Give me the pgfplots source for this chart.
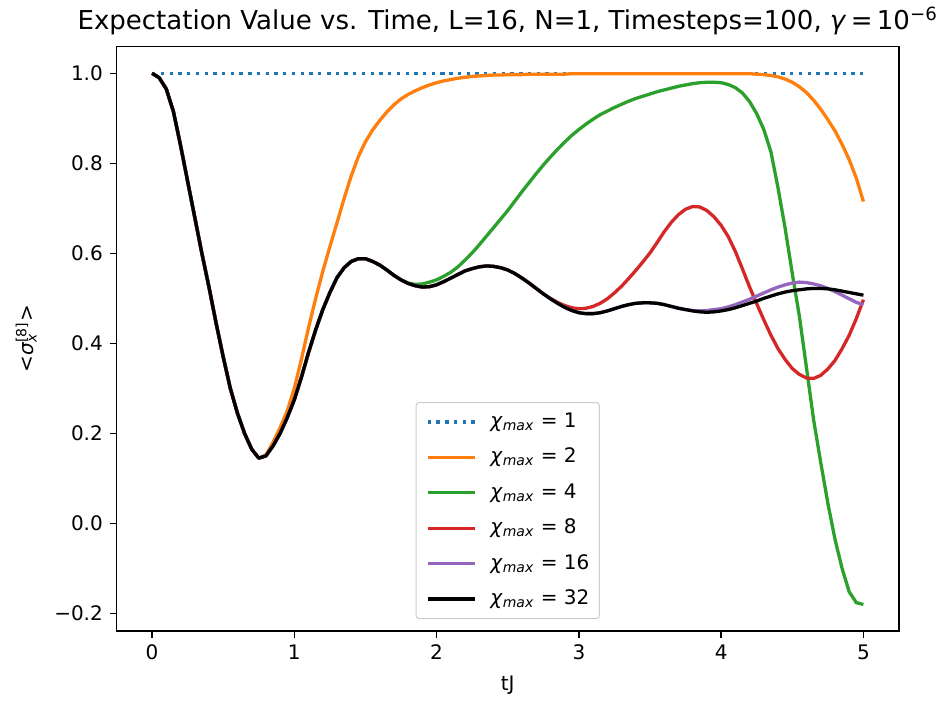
\documentclass[border=0pt]{standalone}
\usepackage{pgfplots}
\pgfplotsset{compat=1.18}
\usepackage{pgfplotstable}
\usepackage{fontspec}
\setmainfont{DejaVu Sans}

\definecolor{C0}{HTML}{1F77B4}
\definecolor{C1}{HTML}{FF7F0E}
\definecolor{C2}{HTML}{2CA02C}
\definecolor{C3}{HTML}{D62728}
\definecolor{C4}{HTML}{9467BD}

% <sigma_x^[8]>(tJ) for each bond dimension chi_max
\pgfplotstableread{
t    c1 c2    c4     c8    c16   c32
0.00 1  1.000 1.000  1.000 1.000 1.000
0.05 1  0.990 0.990  0.990 0.990 0.990
0.10 1  0.965 0.965  0.965 0.965 0.965
0.15 1  0.915 0.915  0.915 0.915 0.915
0.20 1  0.840 0.840  0.840 0.840 0.840
0.25 1  0.760 0.760  0.760 0.760 0.760
0.30 1  0.680 0.680  0.680 0.680 0.680
0.35 1  0.600 0.600  0.600 0.600 0.600
0.40 1  0.525 0.525  0.525 0.525 0.525
0.45 1  0.445 0.445  0.445 0.445 0.445
0.50 1  0.370 0.370  0.370 0.370 0.370
0.55 1  0.300 0.300  0.300 0.300 0.300
0.60 1  0.245 0.245  0.245 0.245 0.245
0.65 1  0.200 0.200  0.200 0.200 0.200
0.70 1  0.165 0.165  0.165 0.165 0.165
0.75 1  0.145 0.145  0.145 0.145 0.145
0.80 1  0.152 0.150  0.150 0.150 0.150
0.85 1  0.180 0.172  0.172 0.172 0.172
0.90 1  0.213 0.200  0.200 0.200 0.200
0.95 1  0.250 0.235  0.235 0.235 0.235
1.00 1  0.300 0.275  0.275 0.275 0.275
1.05 1  0.365 0.325  0.325 0.325 0.325
1.10 1  0.435 0.380  0.380 0.380 0.380
1.15 1  0.500 0.430  0.430 0.430 0.430
1.20 1  0.560 0.475  0.475 0.475 0.475
1.25 1  0.615 0.513  0.513 0.513 0.513
1.30 1  0.668 0.546  0.546 0.546 0.546
1.35 1  0.722 0.568  0.568 0.568 0.568
1.40 1  0.772 0.582  0.582 0.582 0.582
1.45 1  0.815 0.588  0.588 0.588 0.588
1.50 1  0.848 0.588  0.588 0.588 0.588
1.55 1  0.874 0.582  0.582 0.582 0.582
1.60 1  0.895 0.574  0.574 0.574 0.574
1.65 1  0.914 0.563  0.563 0.563 0.563
1.70 1  0.930 0.551  0.551 0.551 0.551
1.75 1  0.943 0.541  0.541 0.541 0.541
1.80 1  0.953 0.534  0.533 0.533 0.533
1.85 1  0.961 0.531  0.528 0.528 0.528
1.90 1  0.968 0.532  0.525 0.525 0.525
1.95 1  0.974 0.536  0.526 0.526 0.526
2.00 1  0.979 0.541  0.530 0.530 0.530
2.05 1  0.983 0.549  0.537 0.537 0.537
2.10 1  0.986 0.558  0.545 0.545 0.545
2.15 1  0.989 0.570  0.553 0.553 0.553
2.20 1  0.991 0.585  0.561 0.561 0.561
2.25 1  0.993 0.601  0.566 0.566 0.566
2.30 1  0.994 0.619  0.570 0.570 0.570
2.35 1  0.995 0.638  0.572 0.572 0.572
2.40 1  0.996 0.657  0.571 0.571 0.571
2.45 1  0.996 0.676  0.568 0.568 0.568
2.50 1  0.997 0.695  0.563 0.563 0.563
2.55 1  0.997 0.716  0.555 0.555 0.555
2.60 1  0.997 0.737  0.545 0.545 0.545
2.65 1  0.998 0.757  0.534 0.534 0.534
2.70 1  0.998 0.777  0.522 0.522 0.522
2.75 1  0.998 0.796  0.510 0.510 0.510
2.80 1  0.998 0.814  0.500 0.499 0.499
2.85 1  0.998 0.831  0.491 0.489 0.489
2.90 1  0.998 0.847  0.484 0.480 0.480
2.95 1  0.999 0.862  0.479 0.473 0.473
3.00 1  0.999 0.875  0.477 0.468 0.468
3.05 1  0.999 0.887  0.478 0.466 0.466
3.10 1  0.999 0.898  0.482 0.466 0.466
3.15 1  0.999 0.908  0.489 0.468 0.468
3.20 1  0.999 0.916  0.499 0.472 0.472
3.25 1  0.999 0.924  0.512 0.477 0.477
3.30 1  0.999 0.931  0.527 0.482 0.482
3.35 1  0.999 0.938  0.544 0.486 0.486
3.40 1  0.999 0.944  0.562 0.489 0.489
3.45 1  0.999 0.949  0.581 0.490 0.490
3.50 1  0.999 0.954  0.601 0.490 0.490
3.55 1  0.999 0.959  0.624 0.489 0.489
3.60 1  0.999 0.963  0.648 0.486 0.486
3.65 1  0.999 0.967  0.669 0.482 0.482
3.70 1  0.999 0.971  0.686 0.478 0.478
3.75 1  0.999 0.974  0.698 0.475 0.475
3.80 1  0.999 0.977  0.704 0.473 0.472
3.85 1  0.999 0.979  0.703 0.472 0.470
3.90 1  0.999 0.980  0.695 0.473 0.469
3.95 1  0.999 0.980  0.681 0.475 0.470
4.00 1  0.999 0.979  0.662 0.477 0.472
4.05 1  0.999 0.975  0.637 0.481 0.475
4.10 1  0.999 0.968  0.604 0.486 0.479
4.15 1  0.999 0.956  0.565 0.492 0.484
4.20 1  0.999 0.937  0.525 0.498 0.489
4.25 1  0.998 0.910  0.488 0.505 0.494
4.30 1  0.997 0.875  0.452 0.512 0.500
4.35 1  0.995 0.825  0.418 0.519 0.505
4.40 1  0.992 0.745  0.388 0.525 0.510
4.45 1  0.987 0.655  0.364 0.530 0.514
4.50 1  0.980 0.555  0.344 0.534 0.517
4.55 1  0.970 0.460  0.331 0.536 0.519
4.60 1  0.957 0.345  0.323 0.535 0.521
4.65 1  0.940 0.230  0.322 0.532 0.522
4.70 1  0.920 0.135  0.329 0.528 0.522
4.75 1  0.897 0.045  0.343 0.522 0.521
4.80 1  0.872 -0.035 0.362 0.515 0.519
4.85 1  0.842 -0.100 0.388 0.507 0.516
4.90 1  0.808 -0.152 0.418 0.499 0.513
4.95 1  0.767 -0.176 0.455 0.491 0.510
5.00 1  0.715 -0.180 0.497 0.486 0.507
}\chidata

\newcommand{\chimax}{\textit{χ}\textsubscript{\textit{max}}}

\begin{document}
\begin{tikzpicture}
\path[use as bounding box] (0,0) rectangle (473.5pt,351pt);
\begin{axis}[
  at={(58.25pt,35.5pt)}, anchor=south west,
  scale only axis, width=391.25pt, height=292.15pt,
  xmin=-0.25, xmax=5.25, ymin=-0.239, ymax=1.059,
  axis line style={line width=0.75pt},
  tick style={line width=0.75pt, black},
  tick align=outside, major tick length=3.3pt,
  xtick pos=left, ytick pos=left,
  xtick={0,1,2,3,4,5}, xticklabels={0,1,2,3,4,5},
  ytick={-0.2,0,0.2,0.4,0.6,0.8,1.0},
  yticklabels={−0.2,0.0,0.2,0.4,0.6,0.8,1.0},
  ticklabel style={font=\fontsize{10}{12}\selectfont},
  title={Expectation Value vs. Time, L=16, N=1, Timesteps=100, \textit{γ}\,=\,10\textsuperscript{−6}},
  title style={font=\fontsize{13}{15}\selectfont, at={(axis description cs:0.5,1)}, anchor=base, inner sep=0pt, yshift=2.6pt},
  xlabel={tJ},
  xlabel style={font=\fontsize{10}{12}\selectfont, at={(axis description cs:0.5,0)}, anchor=north, inner sep=0pt, yshift=-22.5pt},
  ylabel={<\textit{σ}\rlap{\textsubscript{\textit{x}}}\textsuperscript{[8]}>},
  ylabel style={font=\fontsize{10}{12}\selectfont, at={(axis description cs:-0.1016,0.5)}, anchor=south, inner sep=0pt},
  legend cell align=left,
  legend image code/.code={\draw[#1] (0pt,0pt) -- (23.5pt,0pt);},
  legend style={at={(axis description cs:0.5,0.0205)}, anchor=south,
    font=\fontsize{10}{12}\selectfont, draw=black!20, line width=0.5pt,
    rounded corners=1.5pt, fill=white, fill opacity=0.8, text opacity=1,
    inner xsep=5pt, inner ysep=4.5pt, row sep=7.2pt, column sep=7pt,
    nodes={inner sep=0pt, text height=8pt, text depth=2.5pt}},
  every axis plot/.append style={line width=1.65pt, line join=round},
]
\addplot[C0, dash pattern=on 1.65pt off 2.72pt] table[x=t, y=c1] {\chidata};
\addlegendentry{\chimax{} = 1}
\addplot[C1] table[x=t, y=c2] {\chidata};
\addlegendentry{\chimax{} = 2}
\addplot[C2] table[x=t, y=c4] {\chidata};
\addlegendentry{\chimax{} = 4}
\addplot[C3] table[x=t, y=c8] {\chidata};
\addlegendentry{\chimax{} = 8}
\addplot[C4] table[x=t, y=c16] {\chidata};
\addlegendentry{\chimax{} = 16}
\addplot[black] table[x=t, y=c32] {\chidata};
\addlegendentry{\chimax{} = 32}
\end{axis}
\end{tikzpicture}
\end{document}
